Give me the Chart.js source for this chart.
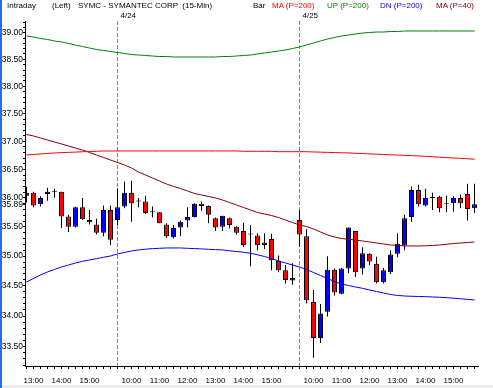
<!DOCTYPE html>
<html><head><meta charset="utf-8">
<script src="https://cdn.jsdelivr.net/npm/chart.js@4.4.1/dist/chart.umd.min.js"></script>
<style>
html,body{margin:0;padding:0;background:#fff;}
#wrap{position:relative;width:493px;height:388px;overflow:hidden;background:#fff;font-family:"Liberation Sans",Arial,sans-serif;font-size:8px;color:#000;}
canvas{position:absolute;left:0;top:0;}
.t{position:absolute;top:1px;white-space:pre;line-height:10px;}
#edge{position:absolute;left:0;top:0;width:2px;height:388px;background:#2b6fd6;}
#foot{position:absolute;left:2px;top:385px;width:491px;height:3px;background:#ececec;}
</style></head><body>
<div id="wrap">
<canvas id="c" width="493" height="388"></canvas>
<div class="t" style="left:7px">Intraday</div>
<div class="t" style="left:52px">(Left)</div>
<div class="t" style="left:78px">SYMC - SYMANTEC CORP  (15-Min)</div>
<div class="t" style="left:253px">Bar</div>
<div class="t" style="left:272px;color:#ff0000">MA (P=200)</div>
<div class="t" style="left:327px;color:#008000">UP (P=200)</div>
<div class="t" style="left:380px;color:#0000ff">DN (P=200)</div>
<div class="t" style="left:436px;color:#800000">MA (P=40)</div>
<div id="edge"></div>
<div id="foot"></div>
</div>
<script>
// ---- data ----
const barTimes = [
 '12:45','13:00','13:15','13:30','13:45','14:00','14:15','14:30','14:45','15:00','15:15','15:30','15:45',
 '09:30','09:45','10:00','10:15','10:30','10:45','11:00','11:15','11:30','11:45','12:00','12:15','12:30','12:45','13:00','13:15','13:30','13:45','14:00','14:15','14:30','14:45','15:00','15:15','15:30','15:45',
 '09:30','09:45','10:00','10:15','10:30','10:45','11:00','11:15','11:30','11:45','12:00','12:15','12:30','12:45','13:00','13:15','13:30','13:45','14:00','14:15','14:30','14:45','15:00','15:15','15:30','15:45'
];
const dayStarts = [13, 39];
const dayLabels = ['4/24', '4/25'];

const open = [36.04,36.09,35.89,36.07,36.11,36.11,35.68,35.50,35.84,35.62,35.54,35.40,35.79,
 35.62,35.85,36.09,35.94,35.94,35.75,35.75,35.54,35.32,35.49,35.61,35.67,35.90,35.86,35.65,35.50,35.65,35.50,35.43,35.37,35.35,35.19,35.29,34.92,34.76,34.59,
 35.62,35.34,34.23,33.64,34.07,34.77,34.37,34.79,35.43,34.79,35.04,34.87,34.56,34.73,35.04,35.18,35.67,36.14,35.87,36.00,36.02,35.89,35.91,36.00,36.07,35.82];
const high = [36.20,36.11,36.03,36.18,36.16,36.11,35.71,35.85,36.00,35.79,35.64,35.87,35.87,
 36.17,36.29,36.30,36.00,36.04,35.85,35.75,35.56,35.53,35.61,35.84,35.91,35.94,35.87,35.66,35.69,35.66,35.51,35.57,35.53,35.39,35.39,35.38,35.01,34.85,34.88,
 35.79,35.46,34.43,34.20,35.00,34.79,34.80,35.49,35.43,35.15,35.05,34.99,34.80,35.10,35.39,35.71,36.20,36.23,36.16,36.09,36.04,36.04,36.03,36.06,36.25,36.25];
const low = [35.92,35.84,35.85,35.95,36.01,35.48,35.41,35.49,35.62,35.54,35.37,35.34,35.19,
 35.53,35.82,35.59,35.84,35.72,35.66,35.56,35.31,35.30,35.34,35.49,35.66,35.78,35.56,35.43,35.43,35.47,35.37,35.15,34.83,35.10,35.12,34.76,34.73,34.54,34.52,
 35.16,34.21,33.32,33.56,33.99,34.34,34.36,34.71,34.65,34.69,34.85,34.54,34.54,34.70,34.98,35.10,35.59,35.85,35.85,35.79,35.75,35.75,35.76,35.82,35.61,35.74];
const close = [36.09,35.87,36.00,36.11,36.11,35.68,35.50,35.84,35.63,35.58,35.40,35.79,35.28,
 35.84,36.09,35.91,35.94,35.74,35.75,35.56,35.34,35.48,35.59,35.67,35.90,35.86,35.71,35.49,35.69,35.53,35.40,35.19,35.37,35.19,35.23,34.93,34.76,34.60,34.63,
 35.37,34.26,33.64,34.04,34.77,34.39,34.79,35.49,34.73,35.05,34.91,34.56,34.76,35.03,35.21,35.65,36.14,35.89,36.00,36.00,35.82,35.89,36.00,35.91,35.81,35.89];

const ma200 = [36.758,36.766,36.775,36.785,36.794,36.799,36.804,36.809,36.815,36.820,
 36.823,36.829,36.829,36.829,36.829,36.829,36.829,36.829,36.829,36.829,
 36.829,36.829,36.829,36.829,36.829,36.829,36.829,36.829,36.829,36.829,
 36.829,36.823,36.823,36.823,36.823,36.823,36.816,36.816,36.816,36.816,
 36.816,36.811,36.808,36.804,36.801,36.797,36.794,36.788,36.783,36.777,
 36.772,36.766,36.761,36.756,36.751,36.745,36.740,36.733,36.726,36.718,
 36.711,36.704,36.697,36.690,36.683];
const up = [38.938,38.919,38.891,38.872,38.844,38.825,38.797,38.768,38.740,38.712,
 38.684,38.665,38.647,38.628,38.609,38.590,38.581,38.572,38.562,38.553,
 38.553,38.544,38.544,38.544,38.544,38.544,38.544,38.544,38.553,38.553,
 38.562,38.572,38.581,38.600,38.618,38.637,38.656,38.675,38.703,38.731,
 38.768,38.806,38.844,38.881,38.909,38.938,38.957,38.975,38.994,39.004,
 39.013,39.013,39.023,39.023,39.032,39.032,39.032,39.032,39.032,39.032,
 39.032,39.032,39.032,39.032,39.032];
const dn = [34.565,34.623,34.682,34.733,34.775,34.817,34.850,34.884,34.913,34.935,
 34.957,34.981,35.003,35.037,35.062,35.088,35.105,35.118,35.128,35.133,
 35.139,35.139,35.139,35.133,35.128,35.123,35.116,35.111,35.105,35.091,
 35.079,35.067,35.049,35.023,34.994,34.960,34.918,34.884,34.850,34.817,
 34.775,34.724,34.674,34.623,34.573,34.531,34.506,34.481,34.459,34.431,
 34.406,34.381,34.356,34.340,34.331,34.326,34.323,34.320,34.315,34.310,
 34.303,34.295,34.285,34.275,34.265];
const ma40 = [37.124,37.097,37.061,37.025,36.989,36.954,36.918,36.882,36.846,36.802,
 36.757,36.713,36.668,36.624,36.580,36.527,36.456,36.403,36.350,36.297,
 36.245,36.201,36.166,36.122,36.078,36.052,36.026,36.000,35.965,35.921,
 35.878,35.835,35.791,35.748,35.722,35.696,35.661,35.618,35.575,35.532,
 35.506,35.463,35.412,35.361,35.326,35.301,35.287,35.275,35.258,35.241,
 35.224,35.207,35.190,35.181,35.173,35.173,35.173,35.176,35.181,35.190,
 35.202,35.214,35.224,35.232,35.241];

const yLabels = [39.0, 38.5, 38.0, 37.5, 37.0, 36.5, 36.0, 35.5, 35.0, 34.5, 34.0, 33.5];
const lastPrice = 35.89;

// ---- chart ----
const FAM = '"Liberation Sans", Arial, sans-serif';
const FONT = {family: FAM, size: 8};
const X_MIN = -0.214, X_MAX = 64.5, Y_MIN = 33.1866, Y_MAX = 39.2217;
const pts = arr => arr.map((v, i) => ({x: i, y: v}));
const bodyColor = open.map((o, i) => close[i] > o ? '#0000ff' : (close[i] < o ? '#ff0000' : '#000000'));
const lineDs = (label, arr, color) => ({type: 'line', label, data: pts(arr), borderColor: color, borderWidth: 1,
  pointRadius: 0, tension: 0, fill: false, order: -1});

new Chart(document.getElementById('c'), {
  type: 'bar',
  data: {datasets: [
    lineDs('MA (P=200)', ma200, '#ff0000'),
    lineDs('UP (P=200)', up, '#008000'),
    lineDs('DN (P=200)', dn, '#0000ff'),
    lineDs('MA (P=40)', ma40, '#800000'),
    {label: 'body', data: open.map((o, i) => ({x: i, y: [Math.min(o, close[i]), Math.max(o, close[i])]})),
      backgroundColor: bodyColor, borderColor: '#000', borderWidth: 1, borderSkipped: false,
      barThickness: 5, grouped: false, minBarLength: 1, inflateAmount: 0, order: 0},
    {label: 'wick', data: low.map((l, i) => ({x: i, y: [l, high[i]]})),
      backgroundColor: '#000', borderWidth: 0, barThickness: 1, grouped: false, inflateAmount: 0, order: 1}
  ]},
  options: {
    responsive: false, devicePixelRatio: 1, animation: false, events: [],
    layout: {padding: {left: 0, right: 15, top: 0, bottom: 0}},
    plugins: {legend: {display: false}, tooltip: {enabled: false}, title: {display: false}},
    scales: {
      x: {type: 'linear', position: 'bottom', min: X_MIN, max: X_MAX, offset: false,
        afterBuildTicks: s => { s.ticks = barTimes.map((t, i) => ({value: i})); },
        afterFit: s => { s.height = 22; },
        ticks: {autoSkip: false, maxRotation: 0, minRotation: 0, padding: 7, color: '#000', font: FONT,
          callback: v => (barTimes[v] && barTimes[v].endsWith(':00')) ? barTimes[v] : ''},
        grid: {offset: false, drawOnChartArea: false, drawTicks: true, tickLength: 3, tickColor: '#000', color: '#000'},
        border: {display: true, color: '#000', width: 1}},
      x2: {type: 'linear', position: 'top', min: X_MIN, max: X_MAX, offset: false,
        afterBuildTicks: s => { s.ticks = dayStarts.map(v => ({value: v})); },
        afterFit: s => { s.height = 21; },
        ticks: {autoSkip: false, maxRotation: 0, minRotation: 0, align: 'start', labelOffset: 3, padding: 0,
          color: '#000', font: FONT, callback: v => dayLabels[dayStarts.indexOf(v)]},
        grid: {offset: false, drawOnChartArea: true, drawTicks: false, color: '#808080', lineWidth: 1},
        border: {display: false, dash: [4, 2]}},
      y: {type: 'logarithmic', position: 'left', min: Y_MIN, max: Y_MAX, beginAtZero: false,
        afterBuildTicks: s => {
          const t = [];
          for (let k = 332; k <= 392; k++) t.push(k / 10);
          t.push(lastPrice);
          t.sort((a, b) => a - b);
          s.ticks = t.map(v => ({value: v}));
        },
        afterFit: s => { s.width = 25; },
        ticks: {autoSkip: false, padding: 0, color: '#000', font: {family: FAM, size: 8.5},
          callback: v => yLabels.includes(v) ? v.toFixed(2) : (v === lastPrice ? lastPrice.toFixed(2) : '')},
        grid: {drawOnChartArea: false, drawTicks: true, tickLength: 2, tickColor: '#000', color: '#000'},
        border: {display: true, color: '#000', width: 1}}
    }
  }
});
</script>
</body></html>
